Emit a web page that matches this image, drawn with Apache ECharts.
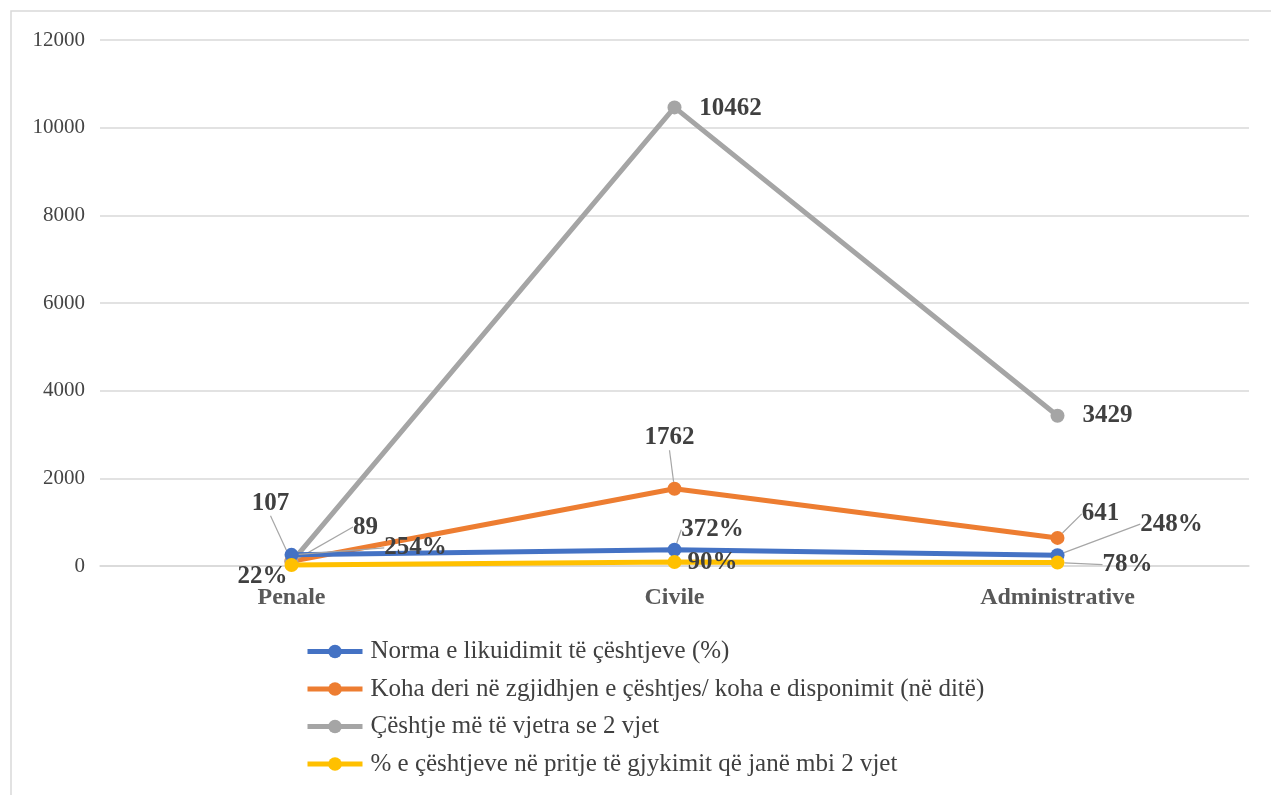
<!DOCTYPE html>
<html><head><meta charset="utf-8">
<script src="https://cdn.jsdelivr.net/npm/echarts@6/dist/echarts.min.js"></script>
<style>html,body{margin:0;padding:0;background:#fff}#c{width:1271px;height:795px}</style>
</head><body><div id="c"></div>
<script>
var categories = ['Penale', 'Civile', 'Administrative'];
var seriesNames = [
  'Norma e likuidimit të çështjeve (%)',
  'Koha deri në zgjidhjen e çështjes/ koha e disponimit (në ditë)',
  'Çështje më të vjetra se 2 vjet',
  '% e çështjeve në pritje të gjykimit që janë mbi 2 vjet'
];
var normaLikuidimit = [254, 372, 248];
var kohaDisponimit = [107, 1762, 641];
var ceshtjeVjetra = [89, 10462, 3429];
var perqindjaMbi2 = [22, 90, 78];
var percentSeries = [true, false, false, true];
var yTicks = [0, 2000, 4000, 6000, 8000, 10000, 12000];

var colors = ['#4472C4', '#ED7D31', '#A5A5A5', '#FFC000'];
// label offsets (style only): [dx, dy, showLeader]
var labelOffsets = [
  [[124, -7, true], [38, -20, true], [114, -31, true]],
  [[-21, -58, true], [-5, -51, true], [43, -24, true]],
  [[74, -35, true], [56, 1, false], [50, 0, false]],
  [[-29, 12, false], [38, 0, false], [70, 2, true]]
];
var values = [normaLikuidimit, kohaDisponimit, ceshtjeVjetra, perqindjaMbi2];

var series = values.map(function (vals, si) {
  return {
    name: seriesNames[si],
    type: 'line',
    z: si === 3 ? 5 : (si === 0 ? 4 : 3),
    symbol: 'circle',
    symbolSize: 14,
    lineStyle: { width: 5, color: colors[si] },
    itemStyle: { color: colors[si] },
    data: vals.map(function (v, i) {
      return {
        value: v,
        labelLine: { show: labelOffsets[si][i][2] }
      };
    }),
    label: {
      show: true,
      position: 'inside',
      fontFamily: 'Liberation Serif',
      fontWeight: 'bold',
      fontSize: 25,
      color: '#404040',
      formatter: function (p) { return p.value + (percentSeries[si] ? '%' : ''); }
    },
    labelLine: { show: true, length2: 0, lineStyle: { color: '#A6A6A6', width: 1.2 } },
    labelLayout: function (p) {
      var o = labelOffsets[si][p.dataIndex];
      return { dx: o[0], dy: o[1], hideOverlap: false };
    }
  };
});

var chart = echarts.init(document.getElementById('c'));
chart.setOption({
  animation: false,
  backgroundColor: '#fff',
  color: colors,
  graphic: [{
    type: 'rect', shape: { x: 11, y: 11, width: 1400, height: 900 },
    style: { fill: 'none', stroke: '#D9D9D9', lineWidth: 1.5 }, silent: true, z: -1
  }],
  grid: { left: 100, right: 22, top: 40, bottom: 229, containLabel: false },
  xAxis: {
    type: 'category',
    data: categories,
    boundaryGap: true,
    axisLine: { show: true, lineStyle: { color: '#D9D9D9', width: 1.5 } },
    axisTick: { show: false },
    axisLabel: { fontFamily: 'Liberation Serif', fontWeight: 'bold', fontSize: 24, color: '#595959', margin: 20 }
  },
  yAxis: {
    type: 'value',
    min: yTicks[0], max: yTicks[yTicks.length - 1], interval: 2000,
    axisLine: { show: false },
    axisTick: { show: false },
    splitLine: { lineStyle: { color: '#D9D9D9', width: 1.5 } },
    axisLabel: {
      fontFamily: 'Liberation Serif', fontSize: 21, color: '#444444', margin: 15,
      formatter: function (v) { return String(v); }
    }
  },
  legend: {
    orient: 'vertical',
    left: 305, top: 639, padding: 0,
    itemWidth: 55, itemHeight: 17, itemGap: 12.5,
    lineStyle: { width: 5 },
    textStyle: { fontFamily: 'Liberation Serif', fontSize: 25, color: '#404040', padding: [0, 0, 0, 3] },
    data: seriesNames
  },
  series: series
});
</script></body></html>
